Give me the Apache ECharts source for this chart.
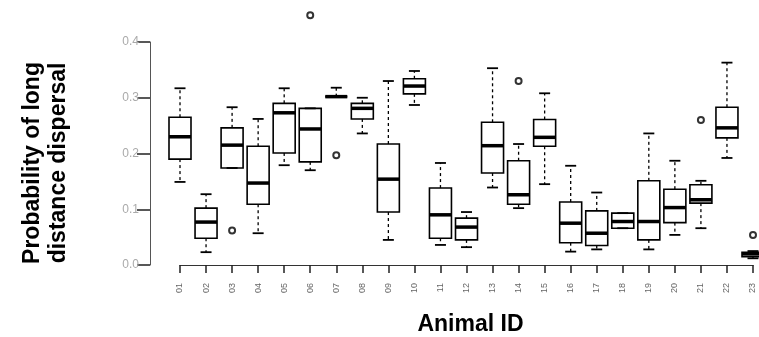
<!DOCTYPE html>
<html>
<head>
<meta charset="utf-8">
<script src="https://cdn.jsdelivr.net/npm/echarts@6/dist/echarts.min.js"></script>
<style>
  html, body { margin: 0; padding: 0; background: #fff; }
  #chart { width: 759px; height: 337px; }
</style>
</head>
<body>
<div id="chart"></div>
<script>
var animals = ['01','02','03','04','05','06','07','08','09','10','11','12','13','14','15','16','17','18','19','20','21','22','23'];
// whisker low, Q1, median, Q3, whisker high
var lowVals  = [0.149,0.023,0.174,0.057,0.179,0.170,0.302,0.236,0.045,0.287,0.036,0.032,0.139,0.102,0.145,0.024,0.028,0.066,0.028,0.054,0.066,0.192,0.012];
var q1Vals   = [0.190,0.048,0.174,0.109,0.201,0.185,0.302,0.262,0.095,0.307,0.048,0.045,0.165,0.109,0.213,0.040,0.035,0.066,0.045,0.076,0.111,0.228,0.015];
var medVals  = [0.230,0.077,0.215,0.147,0.273,0.244,0.302,0.281,0.154,0.321,0.090,0.068,0.214,0.126,0.229,0.075,0.057,0.078,0.078,0.103,0.117,0.246,0.020];
var q3Vals   = [0.265,0.102,0.246,0.213,0.290,0.281,0.302,0.290,0.217,0.334,0.138,0.084,0.256,0.187,0.261,0.113,0.097,0.093,0.151,0.136,0.144,0.283,0.023];
var highVals = [0.317,0.127,0.283,0.262,0.317,0.281,0.318,0.300,0.330,0.348,0.183,0.095,0.353,0.217,0.308,0.178,0.130,0.093,0.236,0.187,0.151,0.363,0.025];
var outlierAnimals = ['03','06','07','14','21','23'];
var outlierVals    = [0.062,0.448,0.197,0.330,0.260,0.054];
var yTicks = [0, 0.1, 0.2, 0.3, 0.4];

var boxData = animals.map(function (a, i) {
  return [i, lowVals[i], q1Vals[i], medVals[i], q3Vals[i], highVals[i]];
});
var outData = outlierAnimals.map(function (a, i) {
  return [animals.indexOf(a), outlierVals[i]];
});

function renderBox(params, api) {
  var x = api.value(0);
  var pLow = api.coord([x, api.value(1)]);
  var pQ1 = api.coord([x, api.value(2)]);
  var pMed = api.coord([x, api.value(3)]);
  var pQ3 = api.coord([x, api.value(4)]);
  var pHigh = api.coord([x, api.value(5)]);
  var cx = pMed[0];
  var w = 22, cap = 11;
  var dashed = { stroke: '#000', lineWidth: 1.3, lineDash: [3, 3] };
  var solid = { stroke: '#000', lineWidth: 1.8 };
  return {
    type: 'group',
    children: [
      { type: 'line', shape: { x1: cx, y1: pQ3[1], x2: cx, y2: pHigh[1] }, style: dashed },
      { type: 'line', shape: { x1: cx, y1: pQ1[1], x2: cx, y2: pLow[1] }, style: dashed },
      { type: 'line', shape: { x1: cx - cap / 2, y1: pHigh[1], x2: cx + cap / 2, y2: pHigh[1] }, style: solid },
      { type: 'line', shape: { x1: cx - cap / 2, y1: pLow[1], x2: cx + cap / 2, y2: pLow[1] }, style: solid },
      { type: 'rect', shape: { x: cx - w / 2, y: pQ3[1], width: w, height: pQ1[1] - pQ3[1] },
        style: { fill: 'rgba(255,255,255,0)', stroke: '#000', lineWidth: 1.6 } },
      { type: 'line', shape: { x1: cx - w / 2, y1: pMed[1], x2: cx + w / 2, y2: pMed[1] },
        style: { stroke: '#000', lineWidth: 3.5 } }
    ]
  };
}

var chart = echarts.init(document.getElementById('chart'));
chart.setOption({
  animation: false,
  textStyle: { fontFamily: 'Liberation Sans, Arial, sans-serif' },
  grid: { left: 180, right: 6, top: 42, bottom: 72, outerBoundsMode: 'none' },
  xAxis: {
    type: 'category',
    data: animals,
    boundaryGap: false,
    offset: 4,
    axisLine: { lineStyle: { color: '#333', width: 1 } },
    axisTick: { alignWithLabel: true, length: 8, lineStyle: { color: '#222', width: 1.5 } },
    axisLabel: { rotate: 90, fontSize: 9, color: '#666', margin: 14 },
    name: 'Animal ID',
    nameLocation: 'middle',
    nameGap: 44,
    nameTextStyle: { fontSize: 23, fontWeight: 'bold', color: '#000', padding: [0, 0, 0, 8] }
  },
  yAxis: {
    type: 'value',
    min: 0,
    max: 0.4,
    interval: 0.1,
    offset: 30,
    axisLine: { show: true, lineStyle: { color: '#555', width: 1 } },
    axisTick: { show: true, length: 13, lineStyle: { color: '#222', width: 1.5 } },
    axisLabel: { fontSize: 12, color: '#aaa', margin: 11,
      formatter: function (v) { return yTicks.indexOf(Math.round(v * 10) / 10) >= 0 ? v.toFixed(1) : ''; } },
    splitLine: { show: false }
  },
  graphic: [{
    type: 'text',
    x: 46,
    y: 163,
    rotation: Math.PI / 2,
    style: {
      text: 'Probability of long\ndistance dispersal',
      font: 'bold 23px Liberation Sans, Arial, sans-serif',
      fill: '#000',
      align: 'center',
      verticalAlign: 'middle',
      lineHeight: 26
    }
  }],
  series: [{
    type: 'custom',
    renderItem: renderBox,
    data: boxData,
    clip: false,
    encode: { x: 0, y: [1, 2, 3, 4, 5] }
  }, {
    type: 'scatter',
    data: outData,
    symbol: 'emptyCircle',
    symbolSize: 6,
    clip: false,
    itemStyle: { color: '#000', borderColor: '#000', borderWidth: 1.2 }
  }]
});
</script>
</body>
</html>
